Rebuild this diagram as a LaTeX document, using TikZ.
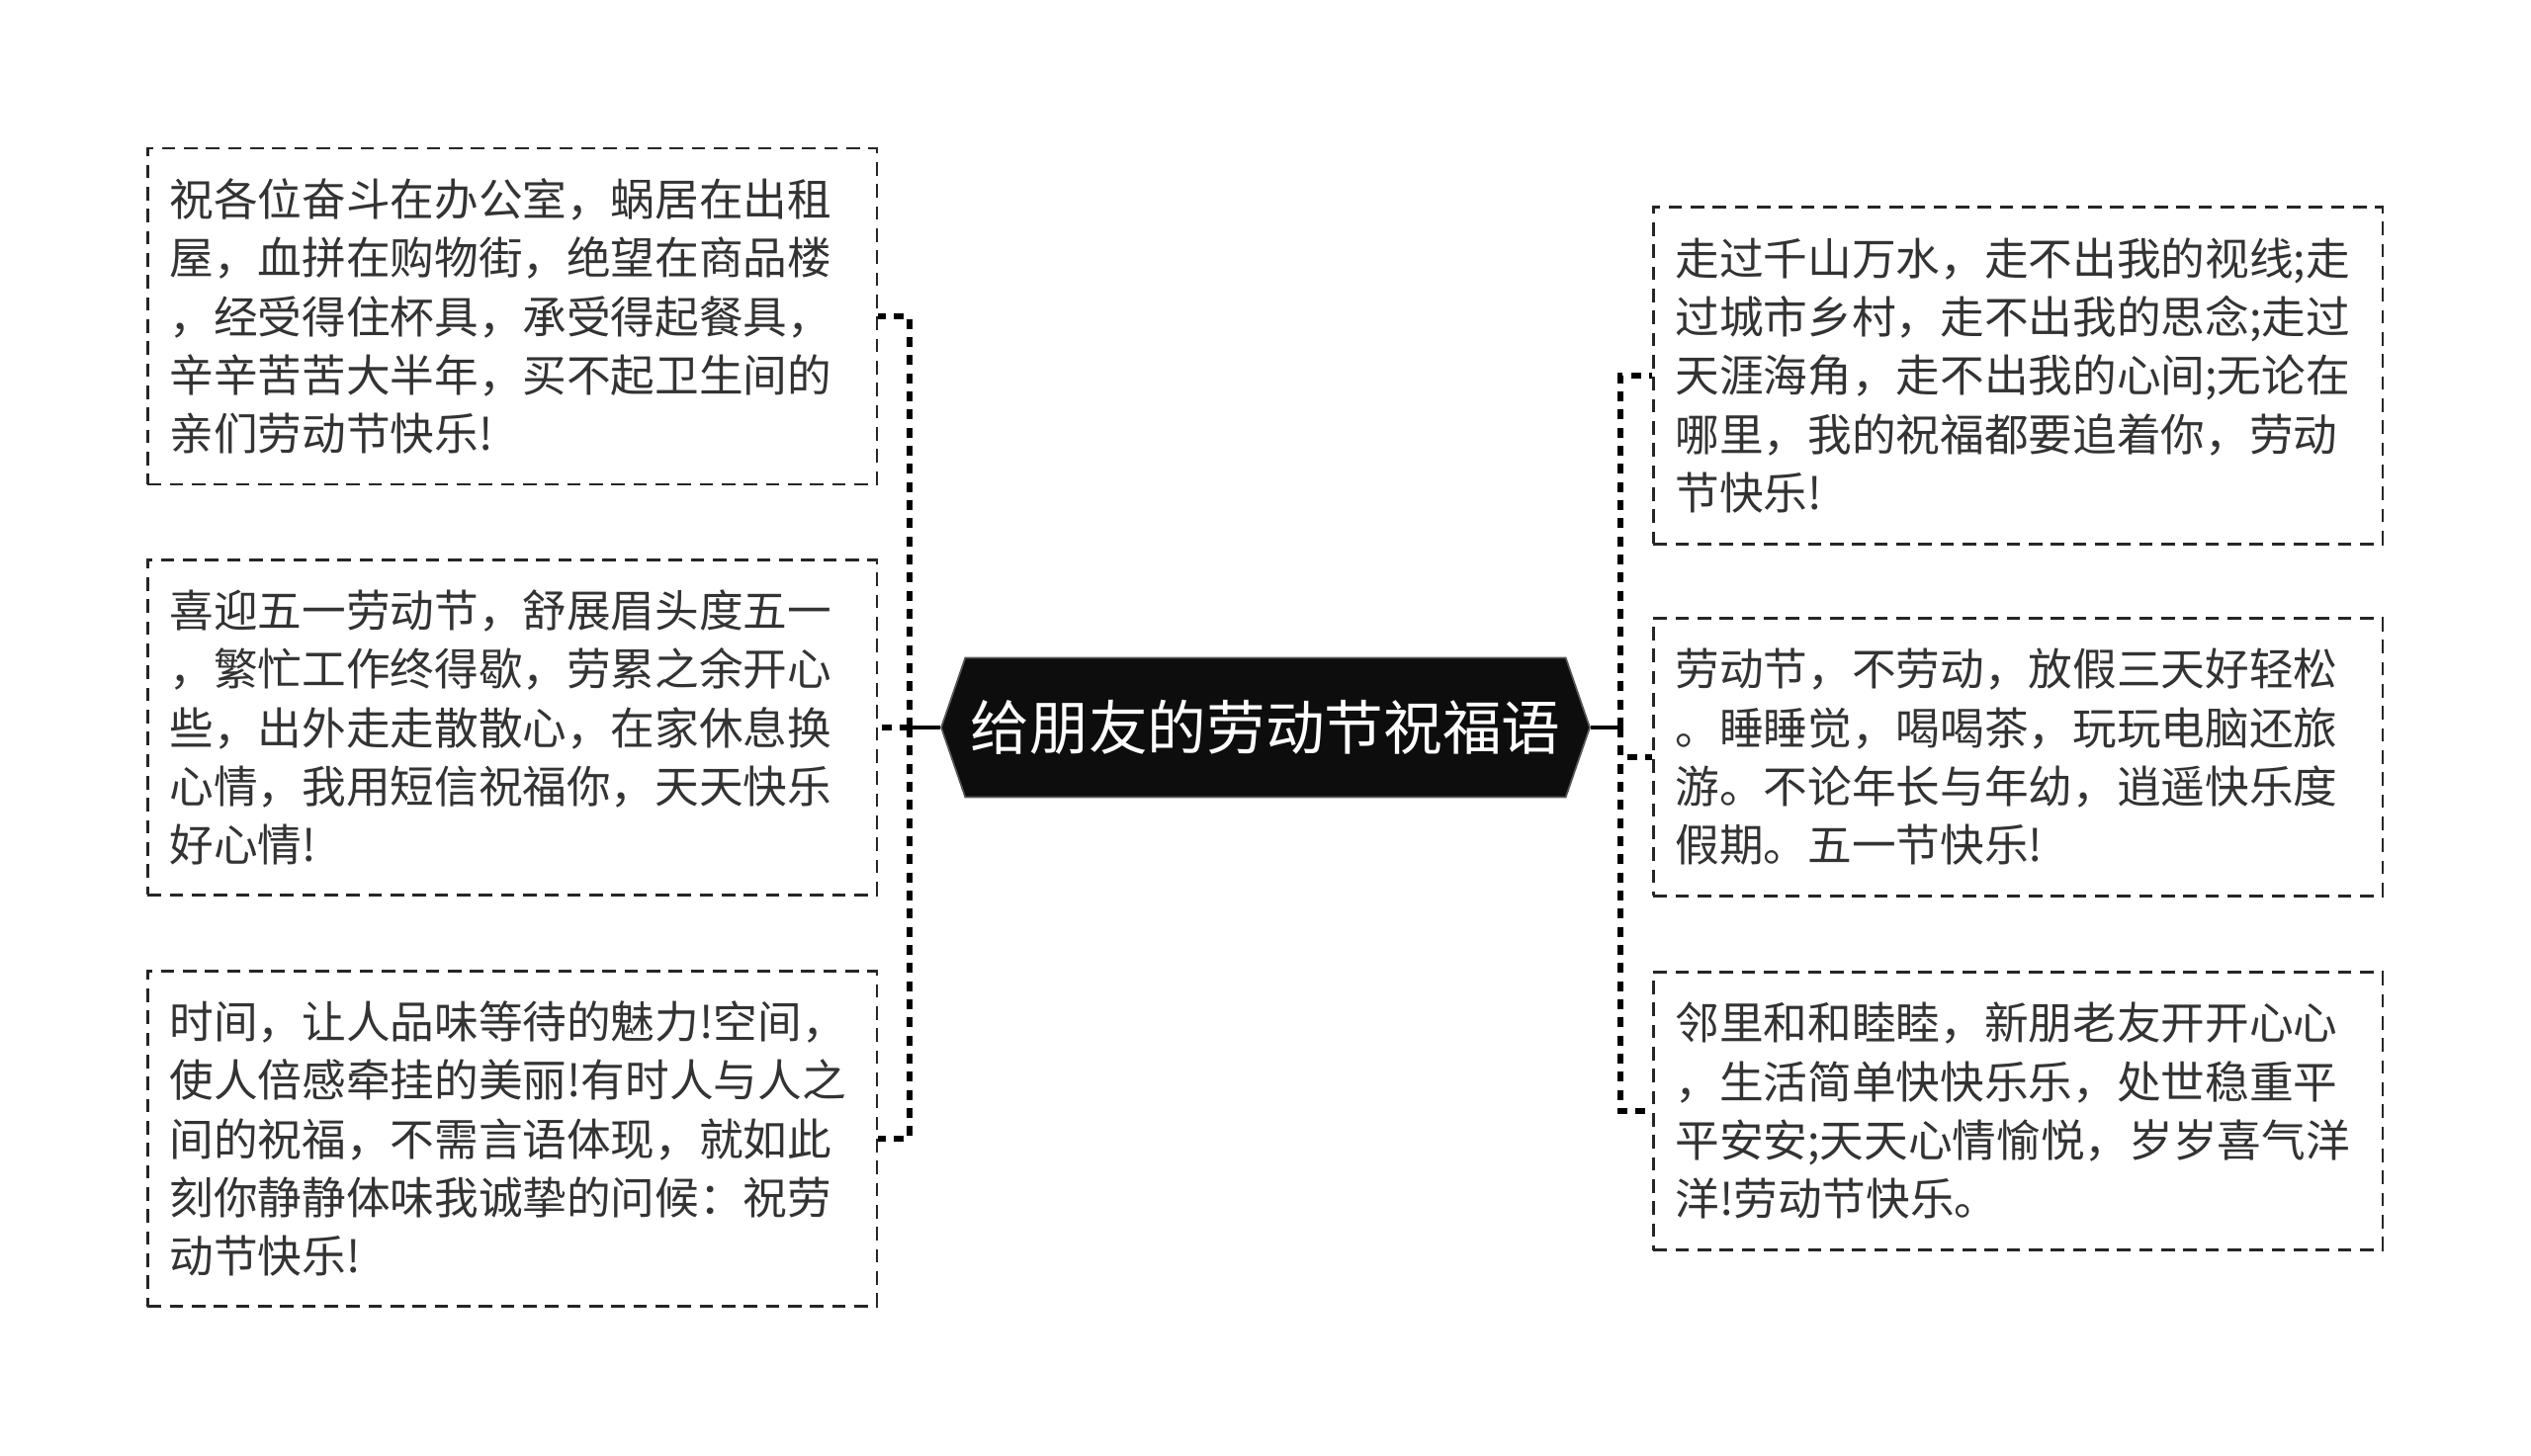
\documentclass[tikz,border=0pt]{standalone}
\usepackage{fontspec}
\setmainfont{Noto Sans CJK SC}
\usetikzlibrary{shapes.symbols}

\tikzset{
  note/.style={draw=black!85, line width=0.7pt, dash pattern=on 4.1pt off 2.6pt,
    text=black!80, align=left, text width=208pt, inner xsep=6.6pt, inner ysep=0pt,
    font=\fontsize{13.4pt}{17.8pt}\selectfont},
  topic/.style={shape=signal, signal to=west and east, signal pointer angle=142,
    fill=black!95, draw=black!65, line width=0.5pt, text=white, inner sep=0pt,
    minimum width=196.8pt, minimum height=42.3pt,
    font=\fontsize{17.9pt}{20pt}\selectfont},
  trunk/.style={line width=1pt},
  branch/.style={line width=1.7pt, dash pattern=on 3pt off 2.5pt}
}

\begin{document}
\begin{tikzpicture}[x=0.3pt,y=-0.3pt]
\useasboundingbox (0,0) rectangle (2560,1473);
\node[topic] (title) at (1280,736) {给朋友的劳动节祝福语};
% left side
\foreach \nm/\cx/\cy/\h/\txt in {
  l1/518/320/340/{祝各位奋斗在办公室，蜗居在出租\\屋，血拼在购物街，绝望在商品楼\\，经受得住杯具，承受得起餐具，\\辛辛苦苦大半年，买不起卫生间的\\亲们劳动节快乐!},
  l2/518/736/339/{喜迎五一劳动节，舒展眉头度五一\\，繁忙工作终得歇，劳累之余开心\\些，出外走走散散心，在家休息换\\心情，我用短信祝福你，天天快乐\\好心情!},
  l3/518/1152/339/{时间，让人品味等待的魅力!空间，\\使人倍感牵挂的美丽!有时人与人之\\间的祝福，不需言语体现，就如此\\刻你静静体味我诚挚的问候：祝劳\\动节快乐!},
  r1/2041/380/341/{走过千山万水，走不出我的视线;走\\过城市乡村，走不出我的思念;走过\\天涯海角，走不出我的心间;无论在\\哪里，我的祝福都要追着你，劳动\\节快乐!},
  r2/2041/766/281/{劳动节，不劳动，放假三天好轻松\\。睡睡觉，喝喝茶，玩玩电脑还旅\\游。不论年长与年幼，逍遥快乐度\\假期。五一节快乐!},
  r3/2041/1124/281/{邻里和和睦睦，新朋老友开开心心\\，生活简单快快乐乐，处世稳重平\\平安安;天天心情愉悦，岁岁喜气洋\\洋!劳动节快乐。}}{
  \node[note, minimum height={\h*0.3pt}] (\nm) at (\cx,\cy) {\txt};
}
\coordinate (lj) at (920,736);
\coordinate (rj) at (1639,736);
\draw[trunk] (title.west) -- (lj);
\draw[trunk] (title.east) -- (rj);
\foreach \b in {l1,l2,l3}
  \draw[branch] (lj) |- (\b.east);
\foreach \b in {r1,r2,r3}
  \draw[branch] (rj) |- (\b.west);
\end{tikzpicture}
\end{document}
